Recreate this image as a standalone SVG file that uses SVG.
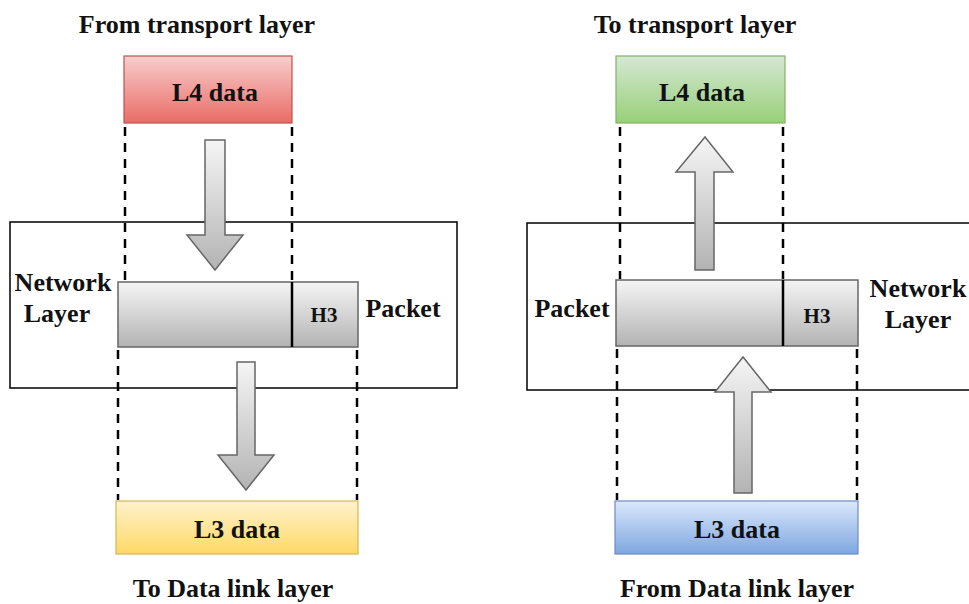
<svg xmlns="http://www.w3.org/2000/svg" width="969" height="604" viewBox="0 0 969 604">
<defs>
<linearGradient id="gRed" x1="0" y1="0" x2="0" y2="1"><stop offset="0" stop-color="#f8cecc"/><stop offset="1" stop-color="#ea6b66"/></linearGradient>
<linearGradient id="gGreen" x1="0" y1="0" x2="0" y2="1"><stop offset="0" stop-color="#d5e8d4"/><stop offset="1" stop-color="#97d077"/></linearGradient>
<linearGradient id="gYellow" x1="0" y1="0" x2="0" y2="1"><stop offset="0" stop-color="#fff2cc"/><stop offset="1" stop-color="#ffd966"/></linearGradient>
<linearGradient id="gBlue" x1="0" y1="0" x2="0" y2="1"><stop offset="0" stop-color="#dae8fc"/><stop offset="1" stop-color="#7ea6e0"/></linearGradient>
<linearGradient id="gGray" x1="0" y1="0" x2="0" y2="1"><stop offset="0" stop-color="#f5f5f5"/><stop offset="1" stop-color="#b3b3b3"/></linearGradient>
</defs>
<style>
text{font-family:"Liberation Serif","Times New Roman",serif;font-weight:bold;fill:#111;text-anchor:middle}
.lbl{font-size:26px}
.h3{font-size:21px}
.layer{fill:none;stroke:#000;stroke-width:1.5}
.dash{stroke:#000;stroke-width:2.5;stroke-dasharray:9 7;fill:none}
.arrow{fill:url(#gGray);stroke:#666;stroke-width:1.5}
.pkt{fill:url(#gGray);stroke:#666;stroke-width:1.5}
.div{stroke:#000;stroke-width:2.5}
</style>
<rect width="969" height="604" fill="#fff"/>

<!-- Left side -->
<text class="lbl" x="197" y="33">From transport layer</text>
<g id="left-network-layer">
<rect class="layer" x="10" y="222" width="447" height="166"/>
<text class="lbl" x="63" y="291">Network</text>
<text class="lbl" x="57" y="322">Layer</text>
</g>
<g id="left-l4">
<rect x="124" y="56" width="168" height="67" fill="url(#gRed)" stroke="#b85450" stroke-width="1.2"/>
<text class="lbl" x="215" y="101">L4 data</text>
</g>
<g id="left-packet">
<rect class="pkt" x="118" y="282" width="240" height="65"/>
<line class="div" x1="292" y1="282" x2="292" y2="347"/>
<text class="h3" x="324" y="322">H3</text>
<text class="lbl" x="403" y="317">Packet</text>
</g>
<g id="left-l3">
<rect x="116" y="501" width="242" height="53" fill="url(#gYellow)" stroke="#d6b656" stroke-width="1.2"/>
<text class="lbl" x="237" y="538">L3 data</text>
</g>
<text class="lbl" x="233" y="597">To Data link layer</text>

<!-- Right side -->
<text class="lbl" x="695" y="33">To transport layer</text>
<g id="right-network-layer">
<rect class="layer" x="527" y="223" width="460" height="167"/>
<text class="lbl" x="918" y="297">Network</text>
<text class="lbl" x="918" y="328">Layer</text>
</g>
<g id="right-l4">
<rect x="616" y="56" width="169" height="67" fill="url(#gGreen)" stroke="#82b366" stroke-width="1.2"/>
<text class="lbl" x="702" y="101">L4 data</text>
</g>
<g id="right-packet">
<rect class="pkt" x="616" y="280" width="242" height="66"/>
<line class="div" x1="783" y1="280" x2="783" y2="346"/>
<text class="h3" x="817" y="323">H3</text>
<text class="lbl" x="572" y="317">Packet</text>
</g>
<g id="right-l3">
<rect x="615" y="501" width="243" height="53" fill="url(#gBlue)" stroke="#6c8ebf" stroke-width="1.2"/>
<text class="lbl" x="737" y="538">L3 data</text>
</g>
<text class="lbl" x="737" y="597">From Data link layer</text>

<g id="connectors">
<line class="dash" x1="125" y1="127" x2="125" y2="280"/>
<line class="dash" x1="292" y1="127" x2="292" y2="282"/>
<line class="dash" x1="118" y1="350" x2="118" y2="500"/>
<line class="dash" x1="357" y1="350" x2="357" y2="500"/>
<line class="dash" x1="620" y1="127" x2="620" y2="279"/>
<line class="dash" x1="783" y1="127" x2="783" y2="279"/>
<line class="dash" x1="617" y1="349" x2="617" y2="500"/>
<line class="dash" x1="857" y1="349" x2="857" y2="500"/>
<polygon class="arrow" points="205,140 225,140 225,235 243,235 215,270 187,235 205,235"/>
<polygon class="arrow" points="237,362 255,362 255,455 274,455 246,490 218,455 237,455"/>
<polygon class="arrow" points="705,137 733,172 714,172 714,270 695,270 695,172 676,172"/>
<polygon class="arrow" points="743,357 771,392 752,392 752,493 734,493 734,392 715,392"/>
</g>
</svg>
